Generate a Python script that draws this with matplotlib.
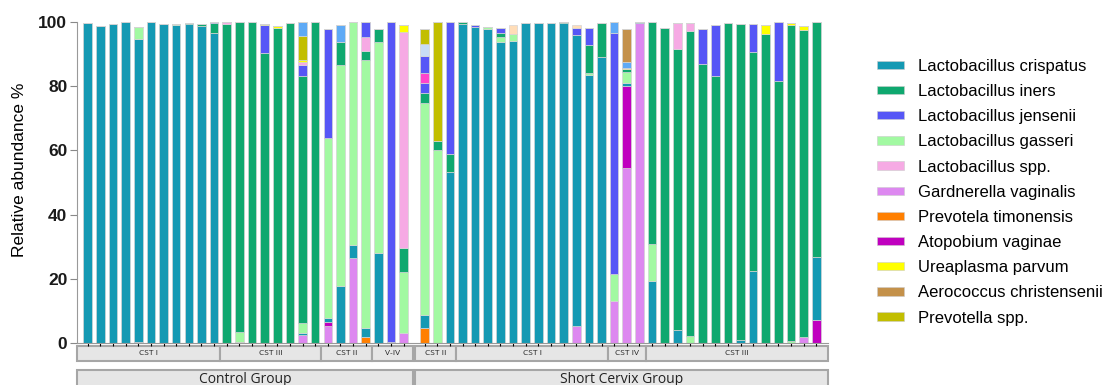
import numpy as np
import matplotlib.pyplot as plt
import matplotlib.transforms as mtransforms
from matplotlib.patches import Patch, Rectangle

plt.rcParams['font.family'] = ['Liberation Sans', 'DejaVu Sans']

# Relative abundance (%) per sample: 26 control samples, then 32 short cervix samples
crispatus = [99.5, 98.8, 99.3, 99.8, 94.0, 99.8, 99.2, 99.0, 99.3, 98.6, 96.4, 0, 0, 0, 0, 0, 0, 0.5, 0, 1.5, 17.9, 4.1, 2.8, 28.2, 0, 0,
             3.9, 0, 53.2, 99.3, 98.4, 97.7, 93.8, 94.1, 99.7, 99.5, 99.7, 99.5, 90.5, 83.4, 88.9, 0, 0.7, 0.5, 19.4, 0, 4.1, 0, 0, 0, 0, 1.0, 22.6, 0, 0, 0, 0, 19.6]
iners = [0, 0, 0, 0, 0, 0, 0, 0, 0.4, 0.8, 3.1, 99.3, 96.2, 99.9, 90.2, 98.2, 99.5, 76.9, 99.8, 0, 7.3, 0, 2.9, 3.8, 0.5, 7.6,
         3.1, 2.9, 5.7, 0.5, 0, 0, 1.3, 0, 0, 0, 0, 0.4, 0, 8.8, 10.6, 0, 0.7, 0, 69.2, 97.9, 87.3, 94.9, 87.0, 83.2, 99.7, 98.3, 68.1, 96.2, 81.7, 98.4, 95.3, 73.1]
jensenii = [0, 0, 0, 0, 0, 0, 0, 0, 0, 0, 0.3, 0, 0, 0, 8.8, 0, 0, 3.4, 0, 33.8, 0, 0, 0, 0, 99.3, 0,
            3.1, 0, 41.1, 0, 0.6, 0, 1.5, 0, 0, 0, 0, 0, 2.2, 5.2, 0, 75.1, 0, 0, 0, 0, 0, 0, 10.7, 15.8, 0, 0, 8.6, 0, 18.3, 0, 0, 0]
gasseri = [0, 0, 0, 0, 3.8, 0, 0, 0.3, 0, 0, 0, 0, 3.1, 0, 0, 0, 0, 3.1, 0, 55.9, 68.6, 69.5, 83.2, 65.6, 0, 18.8,
           65.8, 60.1, 0, 0, 0, 0.8, 1.3, 2.1, 0, 0, 0, 0, 0, 0.5, 0, 8.3, 3.7, 0, 11.4, 0, 0, 2.3, 0, 0, 0, 0, 0, 0, 0, 0.6, 0, 0]
lacto_spp = [0, 0, 0, 0, 0, 0, 0, 0, 0, 0, 0, 0.5, 0, 0, 0, 0, 0, 1.1, 0, 0, 0, 0, 4.1, 0, 0, 67.2,
             0, 0, 0, 0, 0, 0, 0, 0, 0, 0, 0, 0, 0, 0, 0, 0, 0, 0, 0, 0, 8.3, 2.5, 0, 0, 0, 0, 0, 0, 0, 0, 0, 0]
gardnerella = [0, 0, 0, 0, 0.5, 0, 0, 0, 0, 0, 0, 0, 0, 0, 0, 0, 0, 2.6, 0, 5.4, 0, 26.4, 0, 0, 0, 3.3,
               0, 0, 0, 0, 0, 0, 0, 0, 0, 0, 0, 0, 5.4, 0, 0, 13.2, 54.4, 99.5, 0, 0, 0, 0, 0, 0, 0, 0, 0, 0, 0, 0, 2.1, 0]
prev_timonensis = [0, 0, 0, 0, 0, 0, 0, 0, 0, 0, 0, 0, 0, 0, 0, 0, 0, 0, 0, 0, 0, 0, 2.1, 0, 0, 0,
                   4.9, 0, 0, 0, 0, 0, 0, 0, 0, 0, 0, 0, 0, 0, 0, 0, 0, 0, 0, 0, 0, 0, 0, 0, 0, 0, 0, 0, 0, 0, 0, 0]
atopobium = [0, 0, 0, 0, 0, 0, 0, 0, 0, 0, 0, 0, 0.5, 0, 0, 0, 0, 0, 0, 1.1, 0, 0, 0, 0, 0, 0,
             0, 0, 0, 0, 0, 0, 0, 0, 0, 0, 0, 0, 0, 0, 0, 0, 25.7, 0, 0, 0, 0, 0, 0, 0, 0, 0, 0, 0, 0, 0, 0, 7.3]
ureaplasma = [0, 0, 0, 0, 0, 0, 0, 0, 0, 0, 0, 0, 0, 0, 0.3, 0.4, 0, 0.5, 0, 0, 0, 0, 0, 0, 0, 2.1,
              0, 0, 0, 0, 0, 0, 0, 0, 0, 0, 0, 0, 0, 0, 0, 0, 0.4, 0, 0, 0, 0, 0, 0, 0, 0, 0, 0, 2.8, 0, 0.5, 1.4, 0]
aerococcus = [0] * 26 + [0, 0, 0, 0, 0, 0, 0, 0, 0, 0, 0, 0, 0, 0, 0, 0, 10.1, 0, 0, 0, 0, 0, 0, 0, 0, 0, 0, 0, 0, 0, 0, 0]
prevotella_spp = [0, 0, 0, 0, 0, 0, 0, 0, 0, 0, 0, 0, 0, 0, 0, 0, 0, 7.4, 0, 0, 0, 0, 0, 0, 0, 0,
                  4.7, 37.0, 0, 0, 0, 0, 0, 0, 0, 0, 0, 0, 0, 0, 0, 0, 0, 0, 0, 0, 0, 0, 0, 0, 0, 0, 0, 0, 0, 0, 0, 0]
# minor taxa shown in the bars but not in the legend
other_blue = [0] * 22 + [4.9, 0, 0, 0] + [5.5] + [0] * 31
other_pink = [0] * 26 + [3.1] + [0] * 31
other_pale = [0] * 26 + [3.6] + [0] * 31
other_sky = [0] * 17 + [4.5, 0, 0, 5.2, 0, 0, 0, 0, 0] + [0] * 15 + [3.4, 2.0] + [0] * 15
other_peach = [0] * 26 + [0, 0, 0, 0, 0, 0, 0, 2.8, 0, 0, 0, 0, 0.8] + [0] * 19

control_cst = ["CST I"] * 11 + ["CST III"] * 8 + ["CST II"] * 4 + ["V-IV"] * 3
short_cst = ["CST II"] * 3 + ["CST I"] * 12 + ["CST IV"] * 3 + ["CST III"] * 14
groups = ["Control Group", "Short Cervix Group"]

# stacking order (bottom to top): name, values, colour
stack = [
    ("prev_tim", prev_timonensis, "#FF7F00"),
    ("gard", gardnerella, "#DD88F0"),
    ("atop", atopobium, "#C000BF"),
    ("cris", crispatus, "#1499B3"),
    ("gass", gasseri, "#A2F9A2"),
    ("iners", iners, "#0FA86F"),
    ("jens", jensenii, "#5656F6"),
    ("pink", other_pink, "#FF44CC"),
    ("spp", lacto_spp, "#F6AAE4"),
    ("blue2", other_blue, "#5656F6"),
    ("urea", ureaplasma, "#FFFF00"),
    ("pale", other_pale, "#C8DCF5"),
    ("prevspp", prevotella_spp, "#C2BE00"),
    ("sky", other_sky, "#5EAAF6"),
    ("aero", aerococcus, "#C4914A"),
    ("peach", other_peach, "#FFDDB8"),
]
colors = {name: c for name, _, c in stack}

legend_items = [
    ("cris", "Lactobacillus crispatus"),
    ("iners", "Lactobacillus iners"),
    ("jens", "Lactobacillus jensenii"),
    ("gass", "Lactobacillus gasseri"),
    ("spp", "Lactobacillus spp."),
    ("gard", "Gardnerella vaginalis"),
    ("prev_tim", "Prevotela timonensis"),
    ("atop", "Atopobium vaginae"),
    ("urea", "Ureaplasma parvum"),
    ("aero", "Aerococcus christensenii"),
    ("prevspp", "Prevotella spp."),
]

n_control = len(control_cst)
n_short = len(short_cst)
x = np.concatenate([np.arange(n_control), np.arange(n_short) + n_control + 0.66])

fig = plt.figure(figsize=(11.11, 3.85), dpi=100)
ax = fig.add_axes([0.0693, 0.1083, 0.6757, 0.8353])

bottom = np.zeros(len(x))
for name, vals, col in stack:
    vals = np.array(vals, dtype=float)
    ax.bar(x, vals, bottom=bottom, width=0.68, color=col, edgecolor="#d4d4d4", linewidth=0.5)
    bottom += vals

x_lo, x_hi = x[0] - 0.85, x[-1] + 0.9
ax.set_xlim(x_lo, x_hi)
ax.set_ylim(0, 100)
ax.set_yticks([0, 20, 40, 60, 80, 100])
ax.set_xticks(x)
ax.set_xticklabels([])
ax.tick_params(axis="x", length=2.5, width=0.8, color="black")
ax.tick_params(axis="y", length=5, width=0.8, color="#888888", labelsize=12.5, pad=2)
for lab in ax.get_yticklabels():
    lab.set_fontweight("bold")
    lab.set_color("#1a1a1a")
ax.set_ylabel("Relative abundance %", fontsize=12.5)
ax.yaxis.set_label_coords(-0.067, 0.54)
for s in ["top", "right"]:
    ax.spines[s].set_visible(False)
ax.spines["left"].set_color("#999999")
ax.spines["bottom"].set_color("#999999")

# boxes below the axis for the CST types and groups
trans = mtransforms.blended_transform_factory(ax.transData, ax.transAxes)
gap_mid = (x[n_control - 1] + x[n_control]) / 2


def draw_box(x0, x1, y0, y1, text, size):
    ax.add_patch(Rectangle((x0, y0), x1 - x0, y1 - y0, transform=trans, clip_on=False,
                           facecolor="#E6E6E6", edgecolor="#A6A6A6", linewidth=1.5))
    ax.text((x0 + x1) / 2, (y0 + y1) / 2, text, transform=trans, ha="center", va="center",
            fontsize=size, family=["Open Sans", "DejaVu Sans"], color="#222222")


def cst_runs(labels, xs, start, end):
    runs = []
    i = 0
    while i < len(labels):
        j = i
        while j + 1 < len(labels) and labels[j + 1] == labels[i]:
            j += 1
        left = start if i == 0 else (xs[i - 1] + xs[i]) / 2
        right = end if j == len(labels) - 1 else (xs[j] + xs[j + 1]) / 2
        runs.append((left, right, labels[i]))
        i = j + 1
    return runs


for x0, x1, lab in cst_runs(control_cst, x[:n_control], x_lo, gap_mid - 0.1):
    draw_box(x0, x1, -0.054, -0.008, lab, 6)
for x0, x1, lab in cst_runs(short_cst, x[n_control:], gap_mid + 0.1, x_hi):
    draw_box(x0, x1, -0.054, -0.008, lab, 6)

draw_box(x_lo, gap_mid - 0.1, -0.14, -0.083, groups[0], 10)
draw_box(gap_mid + 0.1, x_hi, -0.14, -0.083, groups[1], 10)

handles = [Patch(facecolor=colors[k], edgecolor="#cccccc", linewidth=0.4) for k, _ in legend_items]
labels = [lab for _, lab in legend_items]
fig.legend(handles, labels, loc="upper left", bbox_to_anchor=(0.7755, 0.886), frameon=False,
           fontsize=12, handlelength=1.62, handleheight=0.4, handletextpad=0.84, labelspacing=0.61)

fig.savefig("out.png", dpi=100)
